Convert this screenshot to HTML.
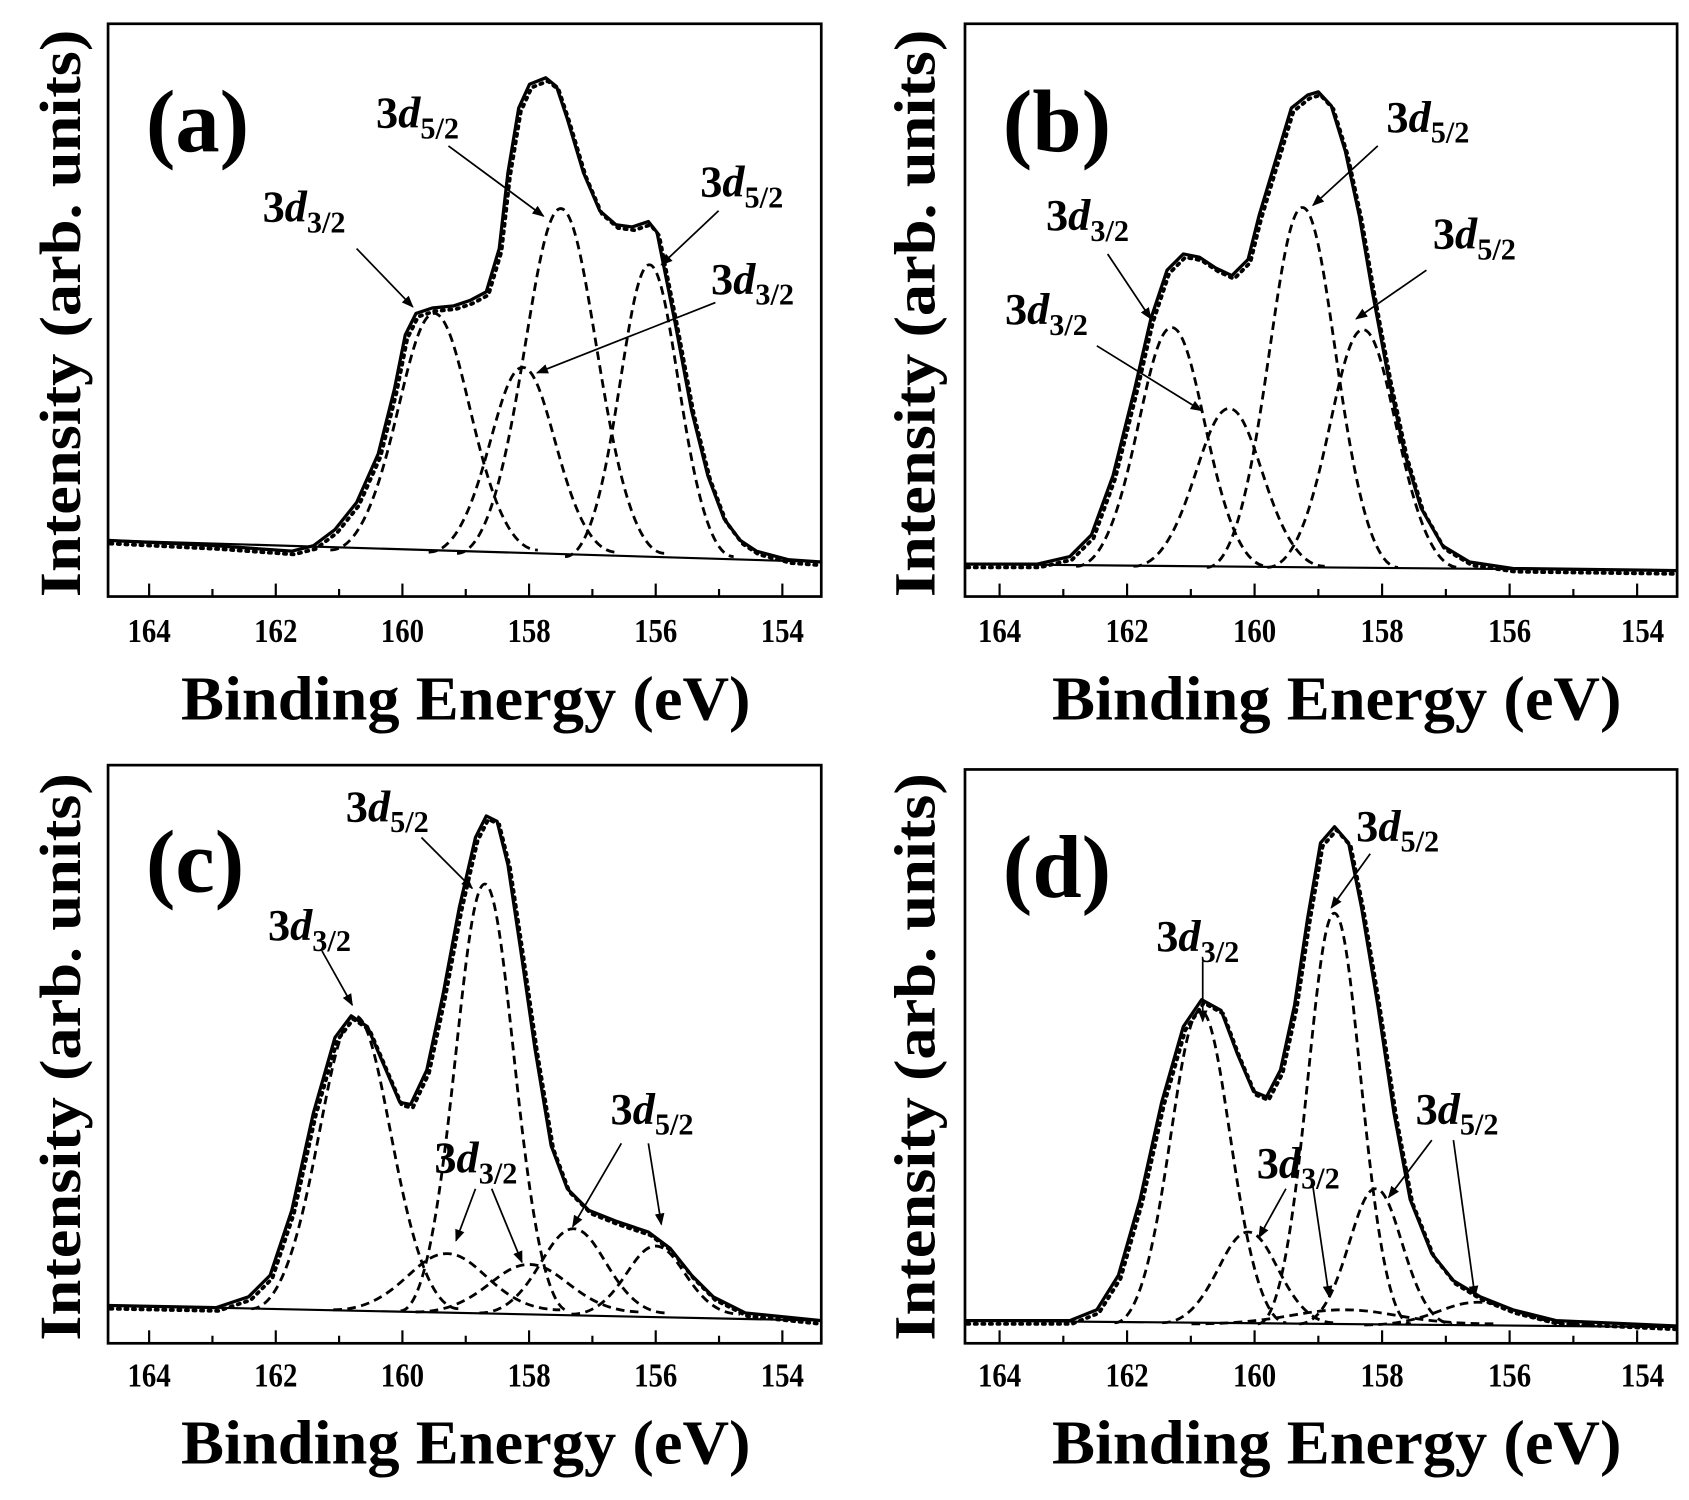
<!DOCTYPE html>
<html><head><meta charset="utf-8"><style>
html,body{margin:0;padding:0;background:#fff;}
svg{display:block;}
text{font-family:"Liberation Serif",serif;font-weight:bold;fill:#000;}
.tk{font-family:"Liberation Sans",sans-serif;font-size:31px;}
.xl{font-size:58px;}
.yl{font-size:54px;}
.pl{font-size:82px;}
.an{font-size:41px;}
.sb{font-size:28px;}
.c{fill:none;stroke:#000;stroke-width:2.6;stroke-dasharray:8,5;}
.s{fill:none;stroke:#000;stroke-width:3;stroke-linejoin:round;}
.dt{fill:none;stroke:#000;stroke-width:3.5;stroke-dasharray:2,5;stroke-linecap:round;}
.fr{fill:none;stroke:#000;stroke-width:2.5;}
.t{stroke:#000;stroke-width:2;}
.a{stroke:#000;stroke-width:1.6;}
</style></head><body>
<svg width="1689" height="1500" viewBox="0 0 1563 1388" preserveAspectRatio="none" xmlns="http://www.w3.org/2000/svg">
<defs><marker id="ar" viewBox="0 0 10 10" refX="9" refY="5" markerWidth="7" markerHeight="7" orient="auto"><path d="M0,1 L10,5 L0,9 z" fill="#000"/></marker></defs>

<!-- Panel (a) -->
<line x1="100" y1="500" x2="760" y2="520" stroke="#000" stroke-width="2"/>
<path class="c" d="M305.7,509 C360,509 373,290 401.7,290 C430.5,290 443.3,509 497.7,509"/>
<path class="c" d="M396.7,511 C446,511 457.6,340 483.7,340 C509.8,340 521.4,511 570.7,511"/>
<path class="c" d="M422.9,512 C477.3,512 490.1,193 518.9,193 C547.7,193 560.5,512 614.9,512"/>
<path class="c" d="M522.9,515 C567.1,515 577.5,245 600.9,245 C624.3,245 634.7,515 678.9,515"/>
<polyline class="s" points="100,500 200,505 270,510 290,505 310,490 330,465 350,420 365,360 375,310 385,290 400,285 420,283 435,278 450,270 462,230 470,160 480,100 490,78 505,72 515,80 525,110 540,160 555,195 570,208 585,210 600,205 608,215 615,250 625,300 640,380 655,440 670,480 685,500 700,510 730,518 760,520"/>
<polyline class="dt" transform="translate(2,3)" points="100,500 200,505 270,510 290,505 310,490 330,465 350,420 365,360 375,310 385,290 400,285 420,283 435,278 450,270 462,230 470,160 480,100 490,78 505,72 515,80 525,110 540,160 555,195 570,208 585,210 600,205 608,215 615,250 625,300 640,380 655,440 670,480 685,500 700,510 730,518 757,520"/>
<rect class="fr" x="100" y="22" width="660" height="530"/>
<g class="t">
<line x1="138" y1="552" x2="138" y2="540"/><line x1="255.2" y1="552" x2="255.2" y2="540"/><line x1="372.4" y1="552" x2="372.4" y2="540"/><line x1="489.6" y1="552" x2="489.6" y2="540"/><line x1="606.8" y1="552" x2="606.8" y2="540"/><line x1="724" y1="552" x2="724" y2="540"/>
<line x1="196.6" y1="552" x2="196.6" y2="545"/><line x1="313.8" y1="552" x2="313.8" y2="545"/><line x1="431" y1="552" x2="431" y2="545"/><line x1="548.2" y1="552" x2="548.2" y2="545"/><line x1="665.4" y1="552" x2="665.4" y2="545"/>
</g>
<g class="tk" text-anchor="middle"><text x="138" y="594" textLength="40" lengthAdjust="spacingAndGlyphs">164</text><text x="255.2" y="594" textLength="40" lengthAdjust="spacingAndGlyphs">162</text><text x="372.4" y="594" textLength="40" lengthAdjust="spacingAndGlyphs">160</text><text x="489.6" y="594" textLength="40" lengthAdjust="spacingAndGlyphs">158</text><text x="606.8" y="594" textLength="40" lengthAdjust="spacingAndGlyphs">156</text><text x="724" y="594" textLength="40" lengthAdjust="spacingAndGlyphs">154</text></g>
<text class="xl" x="431" y="666" text-anchor="middle" textLength="527" lengthAdjust="spacingAndGlyphs">Binding Energy (eV)</text>
<text class="yl" transform="translate(74,290) rotate(-90)" text-anchor="middle" textLength="525" lengthAdjust="spacingAndGlyphs">Intensity (arb. units)</text>
<text class="pl" x="135" y="140">(a)</text>
<text class="an" x="243" y="205">3<tspan font-style="italic">d</tspan><tspan class="sb" dy="10">3/2</tspan></text>
<text class="an" x="348" y="118">3<tspan font-style="italic">d</tspan><tspan class="sb" dy="10">5/2</tspan></text>
<text class="an" x="648" y="182">3<tspan font-style="italic">d</tspan><tspan class="sb" dy="10">5/2</tspan></text>
<text class="an" x="658" y="272">3<tspan font-style="italic">d</tspan><tspan class="sb" dy="10">3/2</tspan></text>
<g class="a"><line x1="330" y1="230" x2="382" y2="284" marker-end="url(#ar)"/><line x1="415" y1="135" x2="503" y2="200" marker-end="url(#ar)"/><line x1="665" y1="195" x2="612" y2="245" marker-end="url(#ar)"/><line x1="662" y1="280" x2="497" y2="345" marker-end="url(#ar)"/></g>

<!-- Panel (b) -->
<line x1="893" y1="522" x2="1552" y2="528" stroke="#000" stroke-width="2"/>
<path class="c" d="M995.8,524 C1045.9,524 1057.7,303 1084.3,303 C1110.9,303 1122.7,524 1172.8,524"/>
<path class="c" d="M1048.9,524 C1099,524 1110.8,378 1137.4,378 C1164,378 1175.8,524 1225.9,524"/>
<path class="c" d="M1116.8,525 C1166.9,525 1178.7,192 1205.3,192 C1231.9,192 1243.7,525 1293.8,525"/>
<path class="c" d="M1172.8,525 C1222.9,525 1234.7,305 1261.3,305 C1287.9,305 1299.7,525 1349.8,525"/>
<polyline class="s" points="893,522 960,522 990,515 1010,495 1030,440 1050,360 1065,295 1080,250 1095,235 1110,238 1125,248 1140,255 1155,240 1165,200 1180,150 1195,100 1210,88 1220,85 1232,98 1245,140 1258,200 1270,270 1285,350 1300,420 1315,470 1335,505 1360,520 1400,526 1552,528"/>
<polyline class="dt" transform="translate(2,3)" points="893,522 960,522 990,515 1010,495 1030,440 1050,360 1065,295 1080,250 1095,235 1110,238 1125,248 1140,255 1155,240 1165,200 1180,150 1195,100 1210,88 1220,85 1232,98 1245,140 1258,200 1270,270 1285,350 1300,420 1315,470 1335,505 1360,520 1400,526 1548,528"/>
<rect class="fr" x="893" y="22" width="659" height="530"/>
<g class="t">
<line x1="925" y1="552" x2="925" y2="540"/><line x1="1043" y1="552" x2="1043" y2="540"/><line x1="1161" y1="552" x2="1161" y2="540"/><line x1="1279" y1="552" x2="1279" y2="540"/><line x1="1397" y1="552" x2="1397" y2="540"/><line x1="1515" y1="552" x2="1515" y2="540"/>
<line x1="984" y1="552" x2="984" y2="545"/><line x1="1102" y1="552" x2="1102" y2="545"/><line x1="1220" y1="552" x2="1220" y2="545"/><line x1="1338" y1="552" x2="1338" y2="545"/><line x1="1456" y1="552" x2="1456" y2="545"/>
</g>
<g class="tk" text-anchor="middle"><text x="925" y="594" textLength="40" lengthAdjust="spacingAndGlyphs">164</text><text x="1043" y="594" textLength="40" lengthAdjust="spacingAndGlyphs">162</text><text x="1161" y="594" textLength="40" lengthAdjust="spacingAndGlyphs">160</text><text x="1279" y="594" textLength="40" lengthAdjust="spacingAndGlyphs">158</text><text x="1397" y="594" textLength="40" lengthAdjust="spacingAndGlyphs">156</text><text x="1520" y="594" textLength="40" lengthAdjust="spacingAndGlyphs">154</text></g>
<text class="xl" x="1237" y="666" text-anchor="middle" textLength="527" lengthAdjust="spacingAndGlyphs">Binding Energy (eV)</text>
<text class="yl" transform="translate(865,290) rotate(-90)" text-anchor="middle" textLength="525" lengthAdjust="spacingAndGlyphs">Intensity (arb. units)</text>
<text class="pl" x="928" y="140">(b)</text>
<text class="an" x="1283" y="122">3<tspan font-style="italic">d</tspan><tspan class="sb" dy="10">5/2</tspan></text>
<text class="an" x="968" y="213">3<tspan font-style="italic">d</tspan><tspan class="sb" dy="10">3/2</tspan></text>
<text class="an" x="930" y="300">3<tspan font-style="italic">d</tspan><tspan class="sb" dy="10">3/2</tspan></text>
<text class="an" x="1326" y="230">3<tspan font-style="italic">d</tspan><tspan class="sb" dy="10">5/2</tspan></text>
<g class="a"><line x1="1275" y1="135" x2="1215" y2="190" marker-end="url(#ar)"/><line x1="1025" y1="235" x2="1065" y2="295" marker-end="url(#ar)"/><line x1="1015" y1="320" x2="1112" y2="380" marker-end="url(#ar)"/><line x1="1320" y1="250" x2="1255" y2="295" marker-end="url(#ar)"/></g>

<!-- Panel (c) -->
<line x1="100" y1="1208" x2="760" y2="1222" stroke="#000" stroke-width="2"/>
<path class="c" d="M232.5,1211 C286.9,1211 299.7,940 328.5,940 C357.3,940 370.1,1211 424.5,1211"/>
<path class="c" d="M370.6,1213 C414.8,1213 425.2,818 448.6,818 C472,818 482.4,1213 526.6,1213"/>
<path class="c" d="M308.4,1212 C367.9,1212 381.9,1160 413.4,1160 C444.9,1160 458.9,1212 518.4,1212"/>
<path class="c" d="M384.6,1214 C444.1,1214 458.1,1170 489.6,1170 C521.1,1170 535.1,1214 594.6,1214"/>
<path class="c" d="M443.6,1215 C492.9,1215 504.5,1137 530.6,1137 C556.7,1137 568.3,1215 617.6,1215"/>
<path class="c" d="M528.8,1216 C573,1216 583.4,1153 606.8,1153 C630.2,1153 640.6,1216 684.8,1216"/>
<polyline class="s" points="100,1208 200,1210 230,1200 250,1180 270,1120 290,1030 310,960 325,940 340,950 355,985 370,1020 380,1022 395,990 410,920 425,840 440,775 450,755 460,760 470,800 482,880 495,970 510,1060 525,1100 545,1120 570,1130 600,1140 620,1155 640,1180 660,1200 690,1215 760,1222"/>
<polyline class="dt" transform="translate(2,3)" points="100,1208 200,1210 230,1200 250,1180 270,1120 290,1030 310,960 325,940 340,950 355,985 370,1020 380,1022 395,990 410,920 425,840 440,775 450,755 460,760 470,800 482,880 495,970 510,1060 525,1100 545,1120 570,1130 600,1140 620,1155 640,1180 660,1200 690,1215 757,1222"/>
<rect class="fr" x="100" y="708" width="660" height="535"/>
<g class="t">
<line x1="138" y1="1243" x2="138" y2="1231"/><line x1="255.2" y1="1243" x2="255.2" y2="1231"/><line x1="372.4" y1="1243" x2="372.4" y2="1231"/><line x1="489.6" y1="1243" x2="489.6" y2="1231"/><line x1="606.8" y1="1243" x2="606.8" y2="1231"/><line x1="724" y1="1243" x2="724" y2="1231"/>
<line x1="196.6" y1="1243" x2="196.6" y2="1236"/><line x1="313.8" y1="1243" x2="313.8" y2="1236"/><line x1="431" y1="1243" x2="431" y2="1236"/><line x1="548.2" y1="1243" x2="548.2" y2="1236"/><line x1="665.4" y1="1243" x2="665.4" y2="1236"/>
</g>
<g class="tk" text-anchor="middle"><text x="138" y="1283" textLength="40" lengthAdjust="spacingAndGlyphs">164</text><text x="255.2" y="1283" textLength="40" lengthAdjust="spacingAndGlyphs">162</text><text x="372.4" y="1283" textLength="40" lengthAdjust="spacingAndGlyphs">160</text><text x="489.6" y="1283" textLength="40" lengthAdjust="spacingAndGlyphs">158</text><text x="606.8" y="1283" textLength="40" lengthAdjust="spacingAndGlyphs">156</text><text x="724" y="1283" textLength="40" lengthAdjust="spacingAndGlyphs">154</text></g>
<text class="xl" x="431" y="1354" text-anchor="middle" textLength="527" lengthAdjust="spacingAndGlyphs">Binding Energy (eV)</text>
<text class="yl" transform="translate(74,978) rotate(-90)" text-anchor="middle" textLength="525" lengthAdjust="spacingAndGlyphs">Intensity (arb. units)</text>
<text class="pl" x="135" y="825">(c)</text>
<text class="an" x="320" y="760">3<tspan font-style="italic">d</tspan><tspan class="sb" dy="10">5/2</tspan></text>
<text class="an" x="248" y="870">3<tspan font-style="italic">d</tspan><tspan class="sb" dy="10">3/2</tspan></text>
<text class="an" x="402" y="1085">3<tspan font-style="italic">d</tspan><tspan class="sb" dy="10">3/2</tspan></text>
<text class="an" x="565" y="1040">3<tspan font-style="italic">d</tspan><tspan class="sb" dy="10">5/2</tspan></text>
<g class="a"><line x1="390" y1="775" x2="437" y2="822" marker-end="url(#ar)"/><line x1="298" y1="880" x2="326" y2="930" marker-end="url(#ar)"/><line x1="440" y1="1100" x2="422" y2="1148" marker-end="url(#ar)"/><line x1="455" y1="1100" x2="483" y2="1168" marker-end="url(#ar)"/><line x1="575" y1="1058" x2="530" y2="1135" marker-end="url(#ar)"/><line x1="600" y1="1058" x2="612" y2="1133" marker-end="url(#ar)"/></g>

<!-- Panel (d) -->
<line x1="893" y1="1222" x2="1552" y2="1228" stroke="#000" stroke-width="2"/>
<path class="c" d="M1031.4,1224 C1076.4,1224 1087,935 1110.9,935 C1134.8,935 1145.4,1224 1190.4,1224"/>
<path class="c" d="M1164,1225 C1204.1,1225 1213.6,845 1234.8,845 C1256,845 1265.5,1225 1305.6,1225"/>
<path class="c" d="M1075.5,1224 C1120.5,1224 1131.1,1140 1155,1140 C1178.9,1140 1189.5,1224 1234.5,1224"/>
<path class="c" d="M1202.2,1225 C1242.3,1225 1251.8,1100 1273,1100 C1294.2,1100 1303.7,1225 1343.8,1225"/>
<path class="c" d="M1102.6,1225 C1182.6,1225 1201.3,1212 1243.6,1212 C1285.9,1212 1304.6,1225 1384.6,1225"/>
<path class="c" d="M1262.5,1226 C1322,1226 1336,1205 1367.5,1205 C1399,1205 1413,1226 1472.5,1226"/>
<polyline class="s" points="893,1222 990,1222 1015,1212 1035,1180 1055,1110 1075,1020 1095,950 1112,925 1130,935 1145,975 1160,1010 1172,1015 1185,990 1198,930 1210,850 1222,780 1235,765 1248,780 1260,840 1275,930 1290,1030 1305,1110 1325,1160 1345,1185 1370,1200 1400,1212 1440,1222 1552,1227"/>
<polyline class="dt" transform="translate(2,3)" points="893,1222 990,1222 1015,1212 1035,1180 1055,1110 1075,1020 1095,950 1112,925 1130,935 1145,975 1160,1010 1172,1015 1185,990 1198,930 1210,850 1222,780 1235,765 1248,780 1260,840 1275,930 1290,1030 1305,1110 1325,1160 1345,1185 1370,1200 1400,1212 1440,1222 1548,1227"/>
<rect class="fr" x="893" y="712" width="659" height="531"/>
<g class="t">
<line x1="925" y1="1243" x2="925" y2="1231"/><line x1="1043" y1="1243" x2="1043" y2="1231"/><line x1="1161" y1="1243" x2="1161" y2="1231"/><line x1="1279" y1="1243" x2="1279" y2="1231"/><line x1="1397" y1="1243" x2="1397" y2="1231"/><line x1="1515" y1="1243" x2="1515" y2="1231"/>
<line x1="984" y1="1243" x2="984" y2="1236"/><line x1="1102" y1="1243" x2="1102" y2="1236"/><line x1="1220" y1="1243" x2="1220" y2="1236"/><line x1="1338" y1="1243" x2="1338" y2="1236"/><line x1="1456" y1="1243" x2="1456" y2="1236"/>
</g>
<g class="tk" text-anchor="middle"><text x="925" y="1283" textLength="40" lengthAdjust="spacingAndGlyphs">164</text><text x="1043" y="1283" textLength="40" lengthAdjust="spacingAndGlyphs">162</text><text x="1161" y="1283" textLength="40" lengthAdjust="spacingAndGlyphs">160</text><text x="1279" y="1283" textLength="40" lengthAdjust="spacingAndGlyphs">158</text><text x="1397" y="1283" textLength="40" lengthAdjust="spacingAndGlyphs">156</text><text x="1520" y="1283" textLength="40" lengthAdjust="spacingAndGlyphs">154</text></g>
<text class="xl" x="1237" y="1354" text-anchor="middle" textLength="527" lengthAdjust="spacingAndGlyphs">Binding Energy (eV)</text>
<text class="yl" transform="translate(865,978) rotate(-90)" text-anchor="middle" textLength="525" lengthAdjust="spacingAndGlyphs">Intensity (arb. units)</text>
<text class="pl" x="928" y="830">(d)</text>
<text class="an" x="1255" y="778">3<tspan font-style="italic">d</tspan><tspan class="sb" dy="10">5/2</tspan></text>
<text class="an" x="1070" y="880">3<tspan font-style="italic">d</tspan><tspan class="sb" dy="10">3/2</tspan></text>
<text class="an" x="1163" y="1090">3<tspan font-style="italic">d</tspan><tspan class="sb" dy="10">3/2</tspan></text>
<text class="an" x="1310" y="1040">3<tspan font-style="italic">d</tspan><tspan class="sb" dy="10">5/2</tspan></text>
<g class="a"><line x1="1268" y1="790" x2="1232" y2="840" marker-end="url(#ar)"/><line x1="1113" y1="890" x2="1113" y2="945" marker-end="url(#ar)"/><line x1="1190" y1="1100" x2="1165" y2="1145" marker-end="url(#ar)"/><line x1="1215" y1="1098" x2="1230" y2="1200" marker-end="url(#ar)"/><line x1="1325" y1="1055" x2="1285" y2="1108" marker-end="url(#ar)"/><line x1="1345" y1="1055" x2="1365" y2="1200" marker-end="url(#ar)"/></g>
</svg>
</body></html>
